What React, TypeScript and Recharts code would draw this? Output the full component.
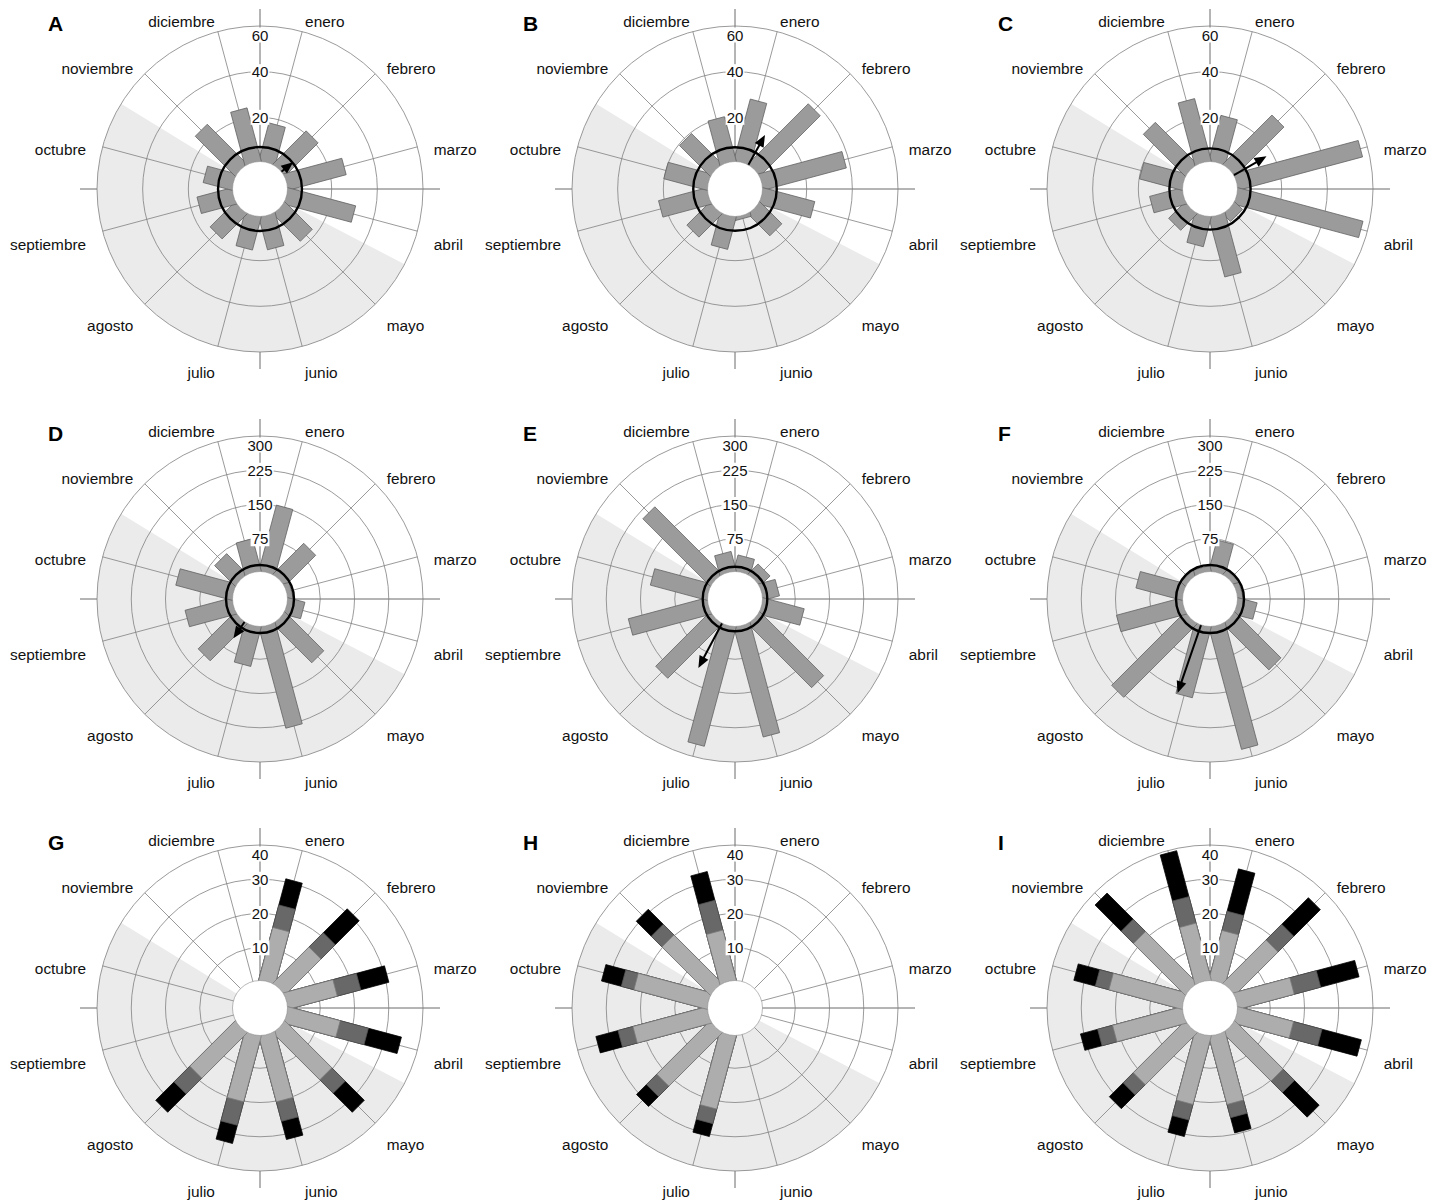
import { PieChart, Pie, RadarChart, Radar, PolarGrid, PolarAngleAxis, PolarRadiusAxis } from 'recharts';

const MESES = [
  'enero', 'febrero', 'marzo', 'abril', 'mayo', 'junio',
  'julio', 'agosto', 'septiembre', 'octubre', 'noviembre', 'diciembre',
];
// centro de cada mes en grados desde el norte, sentido horario
const GRADOS = [15, 45, 75, 105, 135, 165, 195, 225, 255, 285, 315, 345];
// semicírculo sombreado (desde / hasta, grados desde el norte)
const SOMBRA = [117.5, 301.5];

const ESCALA_ABC = [20, 40, 60];
const ESCALA_DEF = [75, 150, 225, 300];
const ESCALA_GHI = [10, 20, 30, 40];

const A_VALORES = [17.6, 20.9, 26.7, 31, 17.3, 15.2, 15.3, 15.8, 16.2, 13.4, 25, 24.4];
const B_VALORES = [28.4, 37.7, 38.1, 23.8, 13.9, 2, 15, 14.7, 22.3, 19.9, 19.3, 20.4];
const C_VALORES = [21, 30.7, 56.8, 57, 5, 27.5, 13.8, 10.5, 15, 19.6, 26.2, 28.6];
const D_VALORES = [151, 97, 14, 40, 122, 231, 91, 116, 108, 129, 65, 75];
const E_VALORES = [38, 33, 39, 95, 199, 251, 272, 170, 180, 130, 210, 46];
const F_VALORES = [72, 14, 14, 45, 144, 279, 162, 229, 150, 106, 14, 14];

// vector medio: [dirección (grados), longitud, radio del círculo de referencia]
const A_MEDIA = [51, 7.3, 7];
const B_MEDIA = [29, 15.7, 6.9];
const C_MEDIA = [60, 17.2, 6.4];
const D_MEDIA = [214, 47, 17.5];
const E_MEDIA = [208, 114, 13.8];
const F_MEDIA = [199, 161, 17.5];

// barras apiladas: límite superior de cada tramo
const G_BAJO = [16.1, 15.1, 15.1, 16, 19.6, 20.1, 20.1, 18.9, null, null, null, null];
const G_MEDIO = [22.9, 21, 22.2, 24.5, 25.1, 26, 27.2, 25.4, null, null, null, null];
const G_ALTO = [30.8, 30.9, 30.7, 34.5, 33, 31.5, 32.7, 33, null, null, null, null];
const H_BAJO = [null, null, null, null, null, null, 22.3, 22.2, 22.6, 22.3, 20.1, 15.3];
const H_MEDIO = [null, null, null, null, null, null, 26.7, 26.5, 27.1, 26.1, 24.5, 24.3];
const H_ALTO = [null, null, null, null, null, null, 30.6, 30.6, 33.8, 32.1, 30.7, 33];
const I_BAJO = [15.2, 18, 17.2, 17, 20.1, 20.9, 20.9, 21.6, 21.2, 22.3, 21.5, 17.4];
const I_MEDIO = [21, 24.5, 25.2, 25.6, 24.8, 24.9, 25.6, 25.8, 25.7, 26.4, 26.6, 25.4];
const I_ALTO = [33.8, 35.5, 36.8, 37.5, 35, 29.5, 30.6, 31.5, 30.9, 32.9, 37.4, 39.3];

const FUENTE = '"Liberation Sans", Arial, sans-serif';
const W = 520;
const H = 410;
const CX = 260;
const CY = 200;
const R_INT = 26;
const R_EXT = 163;
const ANCHO = 17;

type Serie = { key: string; fill: string; stroke: string };

const SERIE_SIMPLE: Serie[] = [{ key: 'v', fill: '#9b9b9b', stroke: '#5e5e5e' }];
const SERIE_APILADA: Serie[] = [
  { key: 'alto', fill: '#000000', stroke: '#000000' },
  { key: 'medio', fill: '#686868', stroke: '#555555' },
  { key: 'bajo', fill: '#adadad', stroke: '#7a7a7a' },
];

function construir(cols: Record<string, (number | null)[]>, media?: number[]) {
  const filas: any[] = GRADOS.map((deg, i) => {
    const f: any = { deg };
    Object.keys(cols).forEach((k) => {
      const v = cols[k][i];
      if (v != null) f[k] = v;
    });
    return f;
  });
  filas.push(media ? { deg: media[0], vector: media[1], anillo: media[2], hueco: 0 } : { deg: 0, hueco: 0 });
  return filas;
}

type Panel = { letra: string; x: number; y: number; escala: number[]; datos: any[]; series: Serie[] };

const PANELES: Panel[] = [
  { letra: 'A', x: 260, y: 189, escala: ESCALA_ABC, datos: construir({ v: A_VALORES }, A_MEDIA), series: SERIE_SIMPLE },
  { letra: 'B', x: 735, y: 189, escala: ESCALA_ABC, datos: construir({ v: B_VALORES }, B_MEDIA), series: SERIE_SIMPLE },
  { letra: 'C', x: 1210, y: 189, escala: ESCALA_ABC, datos: construir({ v: C_VALORES }, C_MEDIA), series: SERIE_SIMPLE },
  { letra: 'D', x: 260, y: 599, escala: ESCALA_DEF, datos: construir({ v: D_VALORES }, D_MEDIA), series: SERIE_SIMPLE },
  { letra: 'E', x: 735, y: 599, escala: ESCALA_DEF, datos: construir({ v: E_VALORES }, E_MEDIA), series: SERIE_SIMPLE },
  { letra: 'F', x: 1210, y: 599, escala: ESCALA_DEF, datos: construir({ v: F_VALORES }, F_MEDIA), series: SERIE_SIMPLE },
  { letra: 'G', x: 260, y: 1008, escala: ESCALA_GHI, datos: construir({ bajo: G_BAJO, medio: G_MEDIO, alto: G_ALTO }), series: SERIE_APILADA },
  { letra: 'H', x: 735, y: 1008, escala: ESCALA_GHI, datos: construir({ bajo: H_BAJO, medio: H_MEDIO, alto: H_ALTO }), series: SERIE_APILADA },
  { letra: 'I', x: 1210, y: 1008, escala: ESCALA_GHI, datos: construir({ bajo: I_BAJO, medio: I_MEDIO, alto: I_ALTO }), series: SERIE_APILADA },
];

const validos = (props: any) =>
  (props.points || []).filter((p: any) => p.value != null && Number.isFinite(p.radius));

// barras rectangulares de ancho constante, desde el centro hacia fuera
const barras = (s: Serie) => (props: any) => (
  <g>
    {validos(props).map((p: any, i: number) => (
      <rect
        key={i}
        x={(p.cx ?? CX) - ANCHO / 2}
        y={(p.cy ?? CY) - p.radius}
        width={ANCHO}
        height={p.radius}
        fill={s.fill}
        stroke={s.stroke}
        strokeWidth={0.7}
        transform={`rotate(${90 - p.angle} ${p.cx ?? CX} ${p.cy ?? CY})`}
      />
    ))}
  </g>
);

const hueco = (props: any) => (
  <g>
    {validos(props).map((p: any, i: number) => (
      <circle key={i} cx={p.cx ?? CX} cy={p.cy ?? CY} r={p.radius + 1.5} fill="#fff" stroke="#8a8a8a" strokeWidth={0.6} />
    ))}
  </g>
);

const anillo = (props: any) => (
  <g>
    {validos(props).map((p: any, i: number) => (
      <circle key={i} cx={p.cx ?? CX} cy={p.cy ?? CY} r={p.radius} fill="none" stroke="#000" strokeWidth={2.4} />
    ))}
  </g>
);

const flecha = (props: any) => (
  <g>
    {validos(props).map((p: any, i: number) => {
      const cx = p.cx ?? CX;
      const cy = p.cy ?? CY;
      const ux = (p.x - cx) / p.radius;
      const uy = (p.y - cy) / p.radius;
      const L = 12;
      const M = 5;
      const bx = p.x - ux * L;
      const by = p.y - uy * L;
      return (
        <g key={i}>
          <line x1={cx} y1={cy} x2={bx + ux * 2} y2={by + uy * 2} stroke="#000" strokeWidth={2} />
          <polygon
            points={`${p.x},${p.y} ${bx - uy * M},${by + ux * M} ${bx + uy * M},${by - ux * M}`}
            fill="#000"
          />
        </g>
      );
    })}
  </g>
);

const EtiquetaMes = (props: any) => {
  const { x, y, payload } = props;
  const derecha = x > CX;
  const nombre = MESES[GRADOS.indexOf(Number(payload?.value))] ?? '';
  return (
    <text
      x={x + (derecha ? -2 : 2)}
      y={y + 8}
      textAnchor={derecha ? 'start' : 'end'}
      dominantBaseline="central"
      fontSize={15.4}
      fontFamily={FUENTE}
      fill="#111"
    >
      {nombre}
    </text>
  );
};

const etiquetaRadio = (escala: number[]) => (props: any) => {
  const { x, y, payload } = props;
  const ultimo = payload.value === escala[escala.length - 1];
  const yy = y + (ultimo ? 9 : 0);
  const txt = String(payload.value);
  const w = txt.length * 8.4 + 2;
  return (
    <g>
      <rect x={x - w / 2} y={yy - 7.5} width={w} height={15} fill="#fff" />
      <text x={x} y={yy} textAnchor="middle" dominantBaseline="central" fontSize={15} fontFamily={FUENTE} fill="#111">
        {txt}
      </text>
    </g>
  );
};

function Rosa({ panel }: { panel: Panel }) {
  const max = panel.escala[panel.escala.length - 1];
  return (
    <div style={{ position: 'absolute', left: panel.x - CX, top: panel.y - CY, width: W, height: H }}>
      <div style={{ position: 'absolute', left: 0, top: 0 }}>
        <PieChart width={W} height={H} cx={CX} cy={CY} innerRadius={0} outerRadius={180} margin={{ top: 0, right: 0, bottom: 0, left: 0 }}>
          <Pie
            data={[{ v: 1 }]}
            dataKey="v"
            cx={CX}
            cy={CY}
            innerRadius={0}
            outerRadius={R_EXT}
            startAngle={90 - SOMBRA[0]}
            endAngle={90 - SOMBRA[1]}
            fill="#ebebeb"
            stroke="none"
            isAnimationActive={false}
          />
          <PolarGrid gridType="circle" polarAngles={[0, 90, 180, 270]} polarRadius={[]} stroke="#5a5a5a" strokeWidth={0.9} />
        </PieChart>
      </div>
      <div style={{ position: 'absolute', left: 0, top: 0 }}>
        <RadarChart
          width={W}
          height={H}
          cx={CX}
          cy={CY}
          innerRadius={R_INT}
          outerRadius={R_EXT}
          data={panel.datos}
          margin={{ top: 0, right: 0, bottom: 0, left: 0 }}
        >
          <PolarGrid gridType="circle" stroke="#808080" strokeWidth={0.8} />
          {panel.series.map((s) => (
            <Radar key={s.key} dataKey={s.key} shape={barras(s)} dot={false} isAnimationActive={false} />
          ))}
          <Radar dataKey="vector" shape={flecha} dot={false} isAnimationActive={false} />
          <Radar dataKey="hueco" shape={hueco} dot={false} isAnimationActive={false} />
          <Radar dataKey="anillo" shape={anillo} dot={false} isAnimationActive={false} />
          <PolarAngleAxis
            dataKey="deg"
            type="number"
            domain={[0, 360]}
            ticks={GRADOS}
            tickSize={19}
            tickLine={false}
            axisLine={false}
            tick={EtiquetaMes}
          />
          <PolarRadiusAxis
            angle={90}
            type="number"
            domain={[0, max]}
            ticks={panel.escala}
            axisLine={false}
            tick={etiquetaRadio(panel.escala)}
          />
        </RadarChart>
      </div>
      <div
        style={{
          position: 'absolute',
          left: CX - 212,
          top: CY - 176,
          fontFamily: FUENTE,
          fontWeight: 'bold',
          fontSize: 21,
          lineHeight: '21px',
          color: '#000',
        }}
      >
        {panel.letra}
      </div>
    </div>
  );
}

export default function App() {
  return (
    <div style={{ position: 'absolute', left: 0, top: 0, width: 1442, height: 1201, background: '#fff', overflow: 'hidden' }}>
      {PANELES.map((p) => (
        <Rosa key={p.letra} panel={p} />
      ))}
    </div>
  );
}
